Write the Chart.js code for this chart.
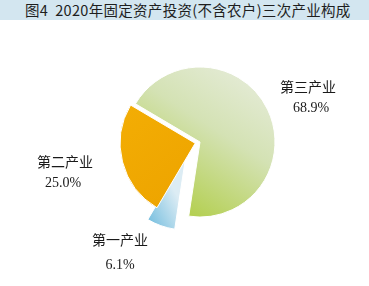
<!DOCTYPE html>
<html>
<head>
<meta charset="utf-8">
<script src="https://cdn.jsdelivr.net/npm/chart.js@4/dist/chart.umd.min.js"></script>
<style>
  html, body { margin: 0; padding: 0; background: #ffffff; }
  #wrap { position: relative; width: 369px; height: 286px; overflow: hidden; }
  #title {
    position: absolute; left: 0; top: 0; width: 369px; height: 20px;
    background: #d3e6f0; color: #1e1e1e;
    font: 14.5px "Noto Sans CJK SC", "Noto Sans", sans-serif;
    letter-spacing: 0.3px;
    line-height: 20px; white-space: pre; padding-left: 25px; box-sizing: border-box;
  }
  #chart { position: absolute; left: 0; top: 0; }
</style>
</head>
<body>
<div id="wrap">
  <div id="title">图4  2020年固定资产投资(不含农户)三次产业构成</div>
  <canvas id="chart" width="369" height="286"></canvas>
</div>
<script>
// Industry shares of fixed-asset investment, clockwise from the upper-left edge
const categories = ['第三产业', '第一产业', '第二产业'];
const shares = [68.9, 6.1, 25.0];

// Gradient fills for each slice
function sliceFill(ctx) {
  const chart = ctx.chart;
  const c = chart.ctx;
  const i = ctx.dataIndex;
  let g;
  if (i === 0) {
    g = c.createLinearGradient(268, 78, 182, 212);
    g.addColorStop(0, '#e6ecda');
    g.addColorStop(0.45, '#d4e2b4');
    g.addColorStop(1, '#b3cf4f');
  } else if (i === 1) {
    g = c.createLinearGradient(182, 205, 150, 222);
    g.addColorStop(0, '#dcecf4');
    g.addColorStop(1, '#7cc1e0');
  } else {
    g = c.createLinearGradient(110, 120, 170, 200);
    g.addColorStop(0, '#f3ad04');
    g.addColorStop(1, '#eea500');
  }
  return g;
}

// Moves the small slice sideways, away from the neighbouring slices
const sliceShift = {
  id: 'sliceShift',
  afterDatasetsUpdate(chart, args, opts) {
    const meta = chart.getDatasetMeta(0);
    (opts.moves || []).forEach(m => {
      const arc = meta.data[m.index];
      if (arc) { arc.x += m.dx; arc.y += m.dy; }
    });
  }
};

// Category name and share drawn beside each slice
const sliceLabels = {
  id: 'sliceLabels',
  afterDraw(chart, args, opts) {
    const c = chart.ctx;
    c.save();
    c.fillStyle = '#1a1a1a';
    c.textAlign = 'center';
    c.textBaseline = 'middle';
    c.font = '14px "Liberation Serif", "Noto Sans CJK SC", serif';
    opts.anchors.forEach((a, i) => {
      c.fillText(categories[i], a.x, a.y);
      c.fillText(shares[i].toFixed(1) + '%', a.vx, a.vy);
    });
    c.restore();
  }
};

new Chart(document.getElementById('chart'), {
  type: 'pie',
  data: {
    labels: categories,
    datasets: [{
      data: shares,
      backgroundColor: sliceFill,
      borderColor: '#ffffff',
      borderWidth: 1,
      offset: [0, 0, 20]
    }]
  },
  options: {
    responsive: false,
    animation: false,
    rotation: -59.4,
    radius: 75,
    layout: { padding: { left: 31, right: 0, top: 0, bottom: 2 } },
    plugins: {
      legend: { display: false },
      tooltip: { enabled: false },
      sliceShift: { moves: [{ index: 1, dx: -14, dy: 13 }] },
      sliceLabels: {
        anchors: [
          { x: 308, y: 88, vx: 311, vy: 108 },
          { x: 120, y: 241, vx: 120, vy: 265 },
          { x: 65, y: 163, vx: 63, vy: 183 }
        ]
      }
    }
  },
  plugins: [sliceShift, sliceLabels]
});
</script>
</body>
</html>
